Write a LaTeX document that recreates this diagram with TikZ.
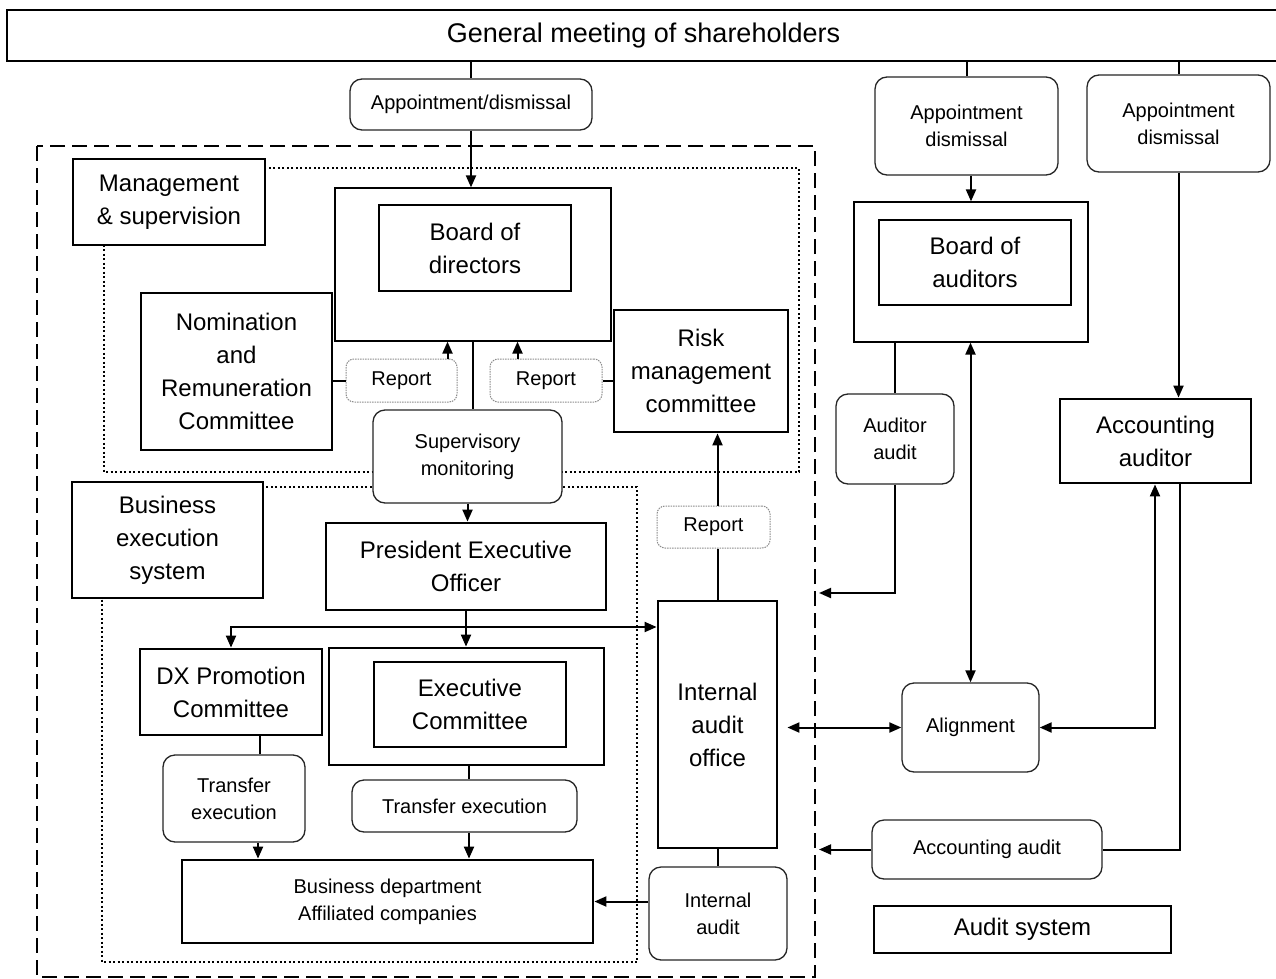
\documentclass[tikz,border=0pt]{standalone}
\usepackage{fontspec}
\setmainfont{Liberation Sans}
\usetikzlibrary{arrows.meta,calc}
\begin{document}
\begin{tikzpicture}[x=1pt,y=-1pt,
 big/.style={font=\fontsize{24}{33}\selectfont},
 small/.style={font=\fontsize{20}{27}\selectfont},
 sz/.style 2 args={minimum width=#1, minimum height=#2},
 base/.style={inner sep=0pt, align=center, fill=white},
 thickbox/.style={base, draw, line width=2.8pt},
 thinbox/.style={base, draw, line width=1.2pt},
 rbox/.style={base, draw=black!85, line width=1.3pt, rounded corners=12pt},
 repbox/.style={base, draw=black!45, line width=1pt, dash pattern=on 1.5pt off 1pt, rounded corners=8pt},
 arr/.style={line width=2pt, -{Triangle[length=12pt,width=10pt]}},
 darr/.style={line width=2pt, {Triangle[length=12pt,width=10pt]}-{Triangle[length=12pt,width=10pt]}},
 ln/.style={line width=2pt},
 dashedreg/.style={line width=2.6pt, dash pattern=on 15pt off 7pt},
 dottedreg/.style={line width=2.2pt, dash pattern=on 2pt off 2.5pt},
]
\useasboundingbox (0,0) rectangle (1276,979);
\fill[white] (0,0) rectangle (1276,979);

% regions
\draw[dashedreg] (37,146) rectangle (815,977);
\draw[dottedreg] (104,168) rectangle (799,472);
\draw[dottedreg] (102,487) rectangle (637,962);

% nodes
\node[thickbox, sz={1273}{51}, font=\fontsize{27}{32}\selectfont] (gm) at (643.5,35.5) {General meeting of shareholders};
\node[rbox, small, sz={242}{51}] (app1) at (471,104.5) {Appointment/dismissal};
\node[rbox, small, sz={183}{98}] (app2) at (966.5,126) {Appointment\\dismissal};
\node[rbox, small, sz={183}{97}] (app3) at (1178.5,123.5) {Appointment\\dismissal};

\node[thickbox, big, sz={192}{86}] (ms) at (169,202) {Management\\\& supervision};
\node[thinbox, sz={276}{153}] (bodo) at (473,264.5) {};
\node[thickbox, big, sz={192}{86}] (bodi) at (475,248) {Board of\\directors};
\node[thickbox, big, sz={191}{157}] (nom) at (236.5,371.5) {Nomination\\and\\Remuneration\\Committee};
\node[repbox, small, sz={111}{43}] (rep1) at (401.5,380.5) {Report};
\node[repbox, small, sz={112}{43}] (rep2) at (546,380.5) {Report};
\node[thickbox, big, sz={174}{122}] (risk) at (701,371) {Risk\\management\\committee};
\node[rbox, small, sz={189}{93}] (sup) at (467.5,456.5) {Supervisory\\monitoring};

\node[thickbox, big, sz={191}{116}] (bes) at (167.5,540) {Business\\execution\\system};
\node[thickbox, big, sz={280}{87}] (pres) at (466,566.5) {President Executive\\Officer};
\node[thickbox, big, sz={182}{86}] (dx) at (231,692) {DX Promotion\\Committee};
\node[thickbox, sz={275}{117}] (exo) at (466.5,706.5) {};
\node[thickbox, big, sz={192}{85}] (exi) at (470,704.5) {Executive\\Committee};
\node[rbox, small, sz={142}{87}] (tr1) at (234,798.5) {Transfer\\execution};
\node[rbox, small, sz={225}{52}] (tr2) at (464.5,806) {Transfer execution};
\node[thickbox, small, sz={411}{83}] (bd) at (387.5,901.5) {Business department\\Affiliated companies};

\node[thickbox, big, sz={119}{247}] (iao) at (717.5,724.5) {Internal\\audit\\office};
\node[repbox, small, sz={113}{42}] (rep3) at (713.5,527) {Report};
\node[rbox, small, sz={138}{93}] (ia) at (718,913.5) {Internal\\audit};

\node[thinbox, sz={234}{140}] (boao) at (971,272) {};
\node[thickbox, big, sz={192}{85}] (boai) at (975,262.5) {Board of\\auditors};
\node[rbox, small, sz={118}{90}] (aa) at (895,439) {Auditor\\audit};
\node[thickbox, big, sz={191}{84}] (acc) at (1155.5,441) {Accounting\\auditor};
\node[rbox, small, sz={137}{89}] (al) at (970.5,727.5) {Alignment};
\node[rbox, small, sz={230}{59}] (acca) at (987,849.5) {Accounting audit};
\node[thickbox, big, sz={297}{47}] (as) at (1022.5,929.5) {Audit system};

% connectors
\draw[ln] (app1.north |- gm.south) -- (app1.north);
\draw[arr] (app1.south) -- (app1.south |- bodo.north);
\draw[ln] (app2.north |- gm.south) -- (app2.north);
\draw[arr] ([xshift=4.5pt]app2.south) -- ([xshift=4.5pt]app2.south |- boao.north);
\draw[ln] (app3.north |- gm.south) -- (app3.north);
\draw[arr] (app3.south) -- (app3.south |- acc.north);

\draw[ln] (rep1.west) -- (rep1.west -| nom.east);
\draw[arr] ([xshift=-10pt]rep1.north east) -- ([xshift=-10pt]rep1.north east |- bodo.south);
\draw[arr] ([xshift=28pt]rep2.north west) -- ([xshift=28pt]rep2.north west |- bodo.south);
\draw[ln] (rep2.east) -- (rep2.east -| risk.west);
\draw[ln] (bodo.south) -- (bodo.south |- sup.north);
\draw[arr] (sup.south) -- (sup.south |- pres.north);

\coordinate (j) at (466,627);
\draw[ln] (pres.south) -- (j);
\draw[arr] (j) -- (j |- exo.north);
\draw[arr] (j) -| (dx.north);
\draw[arr] (j) -- (j -| iao.west);

\draw[ln] ([xshift=26pt]tr1.north) -- ([xshift=26pt]tr1.north |- dx.south);
\draw[arr] ([xshift=24pt]tr1.south) -- ([xshift=24pt]tr1.south |- bd.north);
\draw[ln] ([xshift=2.5pt]exo.south) -- ([xshift=2.5pt]exo.south |- tr2.north);
\draw[arr] ([xshift=4.5pt]tr2.south) -- ([xshift=4.5pt]tr2.south |- bd.north);

\draw[ln] (iao.north) -- (iao.north |- rep3.south);
\draw[arr] (iao.north |- rep3.north) -- (iao.north |- risk.south);
\draw[ln] (iao.south) -- (iao.south |- ia.north);
\draw[arr] (bd.east -| ia.west) -- (bd.east);

\draw[ln] (aa.north |- boao.south) -- (aa.north);
\coordinate (aaL) at (819,593);
\draw[arr] (aa.south) |- (aaL);
\draw[darr] (al.north) -- (al.north |- boao.south);
\draw[darr] ([xshift=9pt]iao.east |- al.west) -- (al.west);
\draw[darr] ([xshift=-0.5pt]acc.south) |- (al.east);
\draw[ln] ([xshift=24.5pt]acc.south) |- (acca.east);
\coordinate (accL) at (819,849.5);
\draw[arr] (acca.west) -- (accL);
\end{tikzpicture}
\end{document}
